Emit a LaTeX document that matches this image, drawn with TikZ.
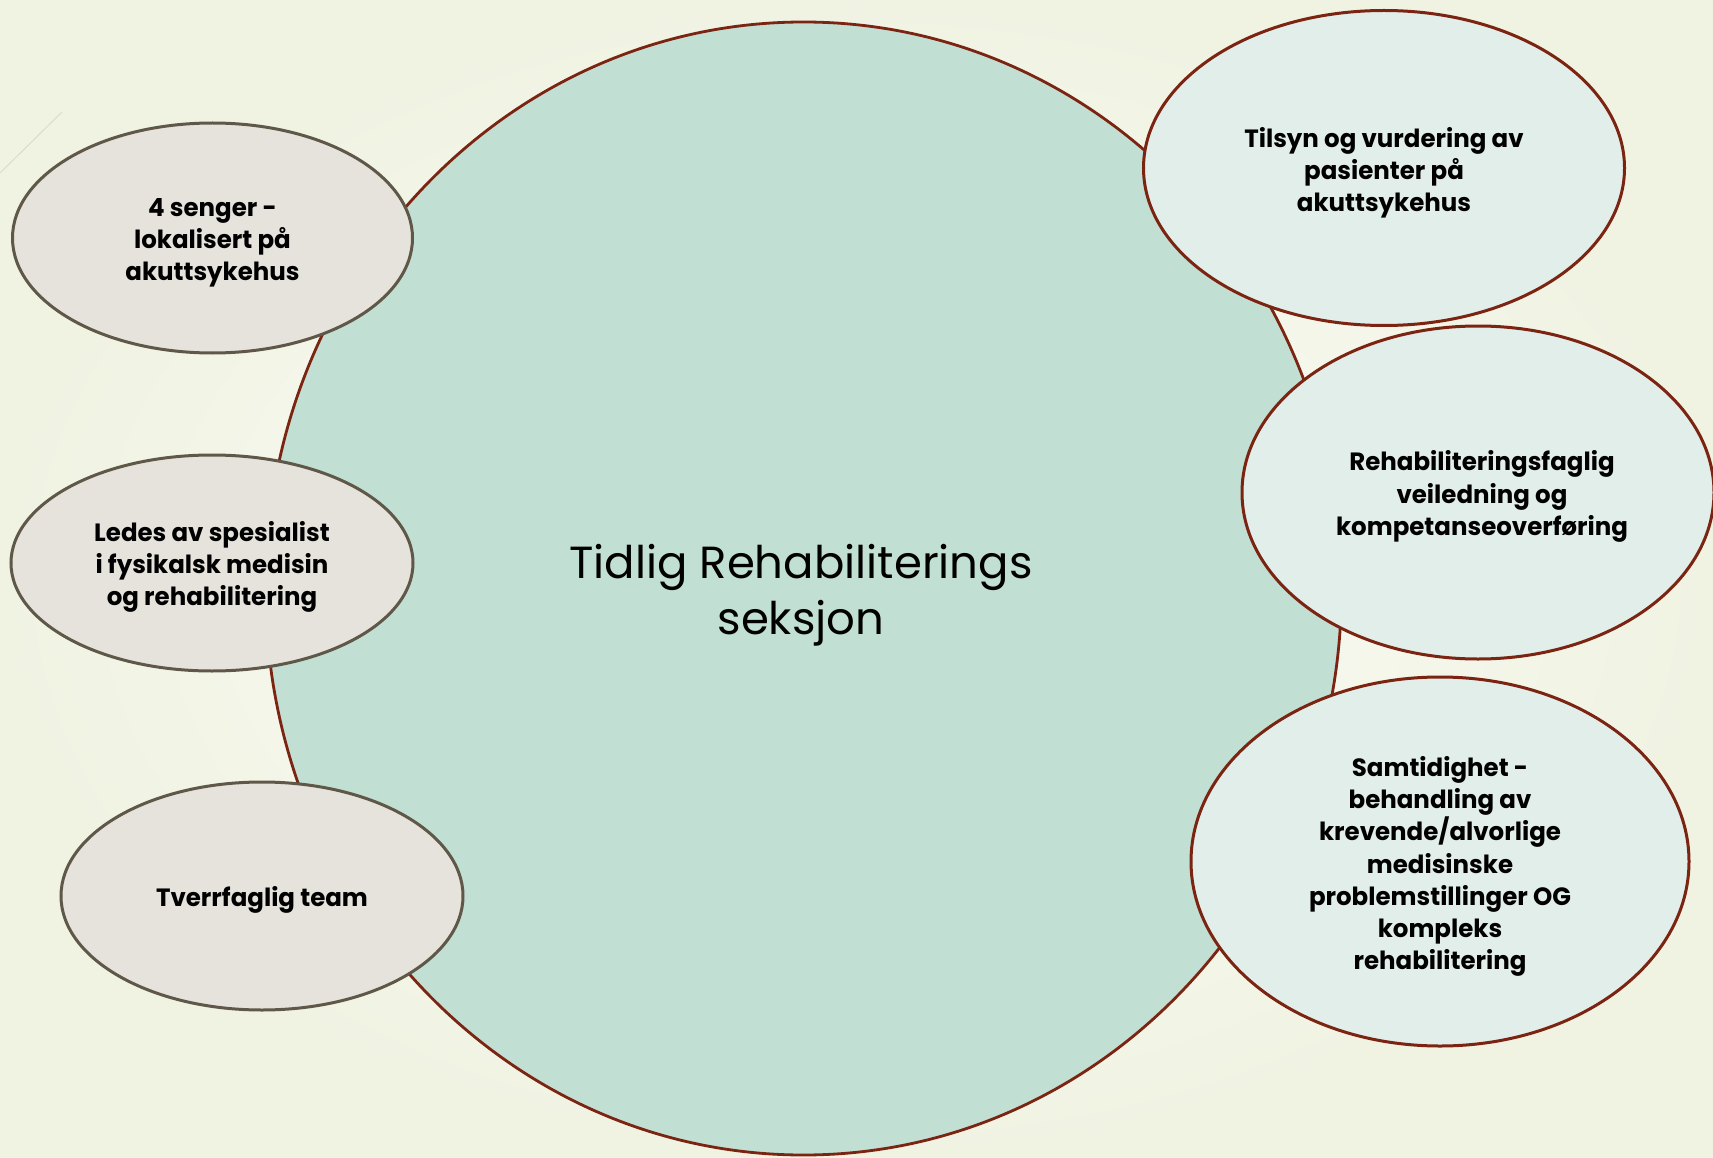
\documentclass[tikz,border=0pt]{standalone}
\usepackage{fontspec}
\setmainfont{Poppins}
\newfontfamily\ellfont{Poppins}[FakeStretch=0.98]
\usetikzlibrary{shapes.geometric}
\definecolor{bgin}{HTML}{FDFDFA}
\definecolor{bgout}{HTML}{F0F3E2}
\definecolor{bigfill}{HTML}{C2DFD4}
\definecolor{redline}{HTML}{7B2412}
\definecolor{leftfill}{HTML}{E6E3DD}
\definecolor{leftline}{HTML}{5F5848}
\definecolor{rightfill}{HTML}{E2EEEA}
\definecolor{decoline}{HTML}{D9DDC9}
\tikzset{
  bigc/.style={ellipse, draw=redline, line width=2.8pt, fill=bigfill, inner sep=0pt},
  lefte/.style={ellipse, draw=leftline, line width=3pt, fill=leftfill, inner sep=0pt},
  righte/.style={ellipse, draw=redline, line width=3pt, fill=rightfill, inner sep=0pt},
  elltext/.style={align=center, inner sep=0pt,
     font=\ellfont\bfseries\fontsize{25}{32.3}\selectfont},
  titletext/.style={align=center, inner sep=0pt, font=\fontsize{45}{56}\selectfont}
}
\begin{document}
\begin{tikzpicture}[x=1pt,y=-1pt]
\shade[inner color=bgin, outer color=bgout] (0,0) rectangle (1713,1158);
\useasboundingbox (0,0) rectangle (1713,1158);
\draw[decoline, line width=1pt] (0,173) -- (62,112);
% big circle
\node[bigc, minimum width=1076pt, minimum height=1133pt] (main) at (803.5,588.5) {};
\node[titletext] (title) at (801,595) {Tidlig Rehabiliterings\\seksjon};
% left ellipses
\node[lefte, minimum width=400pt, minimum height=230pt] (l1) at (212.5,238) {};
\node[elltext] (l1t) at ([yshift=-5pt]l1.center) {4 senger -\\lokalisert på\\akuttsykehus};
\node[lefte, minimum width=402pt, minimum height=216pt] (l2) at (212,563) {};
\node[elltext] (l2t) at ([yshift=-4pt]l2.center) {Ledes av spesialist\\i fysikalsk medisin\\og rehabilitering};
\node[lefte, minimum width=402pt, minimum height=228pt] (l3) at (262,896) {};
\node[elltext] (l3t) at ([yshift=-4pt]l3.center) {Tverrfaglig team};
% right ellipses
\node[righte, minimum width=481pt, minimum height=315pt] (r1) at (1384,168) {};
\node[elltext] (r1t) at ([yshift=-5pt]r1.center) {Tilsyn og vurdering av\\pasienter på\\akuttsykehus};
\node[righte, minimum width=472pt, minimum height=333pt] (r2) at (1478,492.5) {};
\node[elltext] (r2t) at ([xshift=4pt,yshift=-4pt]r2.center) {Rehabiliteringsfaglig\\veiledning og\\kompetanseoverføring};
\node[righte, minimum width=498pt, minimum height=369pt] (r3) at (1440,861.5) {};
\node[elltext] (r3t) at ([yshift=-5pt]r3.center) {Samtidighet -\\behandling av\\krevende/alvorlige\\medisinske\\problemstillinger OG\\kompleks\\rehabilitering};
\end{tikzpicture}
\end{document}
